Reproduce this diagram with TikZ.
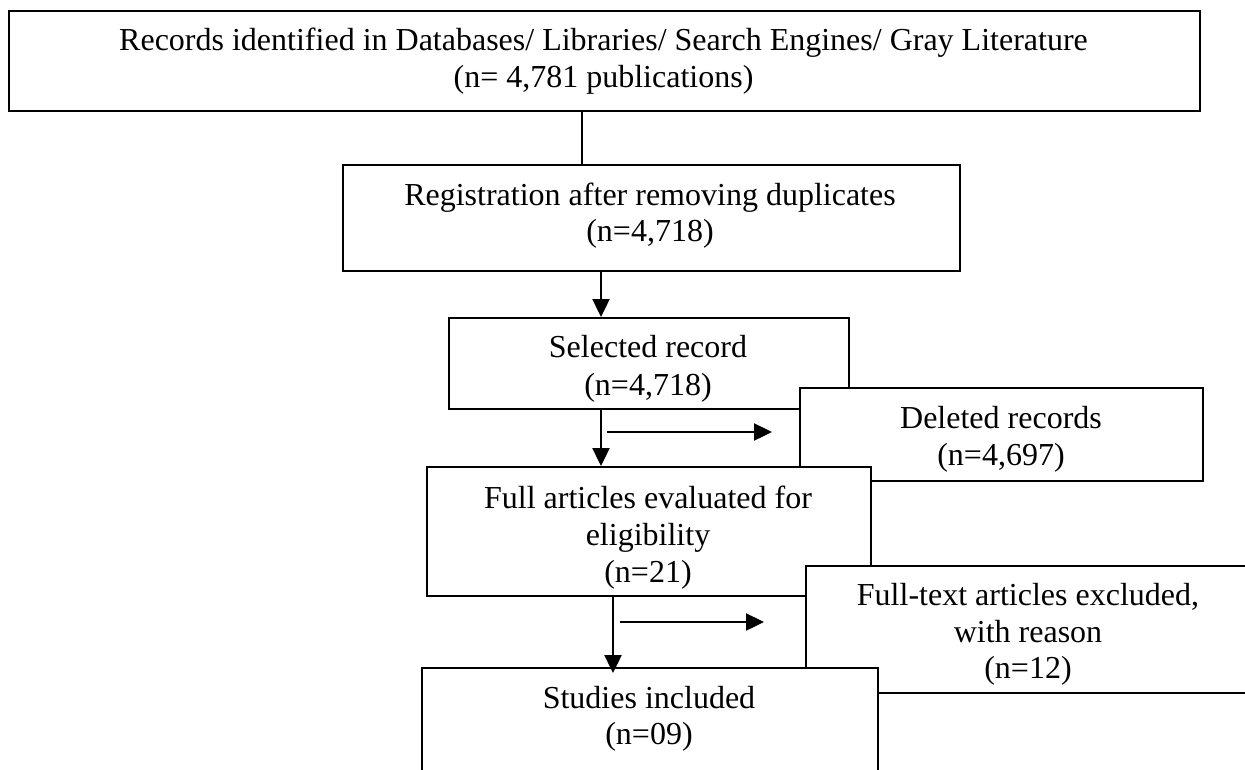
\documentclass[tikz,border=0pt]{standalone}
\usepackage{fontspec}
\setmainfont{Liberation Serif}
\usetikzlibrary{arrows.meta}
\begin{document}
\begin{tikzpicture}[x=1pt,y=-1pt,
  box/.style={draw=black, line width=2pt, fill=white, inner sep=0pt, anchor=north west},
  ln/.style={anchor=base, inner sep=0pt, font=\fontsize{32}{37}\selectfont},
  arr/.style={line width=2.4pt, -{Triangle[length=18pt,width=17pt]}},
  conn/.style={line width=2pt}]
\useasboundingbox (0,0) rectangle (1245,769);
\begin{scope}
\clip (0,0) rectangle (1245,769);
% boxes (drawn in overlap order)
\node[box, minimum width=1191pt, minimum height=100pt] (b1) at (8,10) {};
\node[box, minimum width=617pt, minimum height=106pt] (b2) at (342,164) {};
\node[box, minimum width=400pt, minimum height=91pt] (b3) at (448,317) {};
\node[box, minimum width=403pt, minimum height=93pt] (b4) at (799,387) {};
\node[box, minimum width=444pt, minimum height=129pt] (b5) at (426,466) {};
\node[box, minimum width=446pt, minimum height=127pt] (b6) at (805,565) {};
\node[box, minimum width=456pt, minimum height=133pt] (b7) at (421,667) {};
% texts
\node[ln] (t1a) at (603.5,50) {Records identified in Databases/ Libraries/ Search Engines/ Gray Literature};
\node[ln] (t1b) at (603.5,87) {(n= 4,781 publications)};
\node[ln] (t2a) at (650,205) {Registration after removing duplicates};
\node[ln] (t2b) at (650,241) {(n=4,718)};
\node[ln] (t3a) at (648,357) {Selected record};
\node[ln] (t3b) at (648,395) {(n=4,718)};
\node[ln] (t4a) at (1001,428) {Deleted records};
\node[ln] (t4b) at (1001,465) {(n=4,697)};
\node[ln] (t5a) at (648,508) {Full articles evaluated for};
\node[ln] (t5b) at (648,545) {eligibility};
\node[ln] (t5c) at (648,582) {(n=21)};
\node[ln] (t6a) at (1028,605) {Full-text articles excluded,};
\node[ln] (t6b) at (1028,642) {with reason};
\node[ln] (t6c) at (1028,678) {(n=12)};
\node[ln] (t7a) at (649,708) {Studies included};
\node[ln] (t7b) at (649,744) {(n=09)};
% connectors
\coordinate (c1) at (582,0);
\coordinate (c2) at (601,0);
\coordinate (c3) at (613,0);
\draw[conn] (b1.south -| c1) -- (b2.north -| c1);
\draw[arr] (b2.south -| c2) -- (b3.north -| c2);
\draw[arr] (b3.south -| c2) -- (b5.north -| c2);
\draw[arr] (b5.south -| c3) -- ([yshift=-6pt]b7.north -| c3);
\coordinate (h1s) at (607,432);
\coordinate (h1e) at (772,432);
\draw[arr] (h1s) -- (h1e);
\coordinate (h2s) at (620,622);
\coordinate (h2e) at (764,622);
\draw[arr] (h2s) -- (h2e);
\end{scope}
\end{tikzpicture}
\end{document}
